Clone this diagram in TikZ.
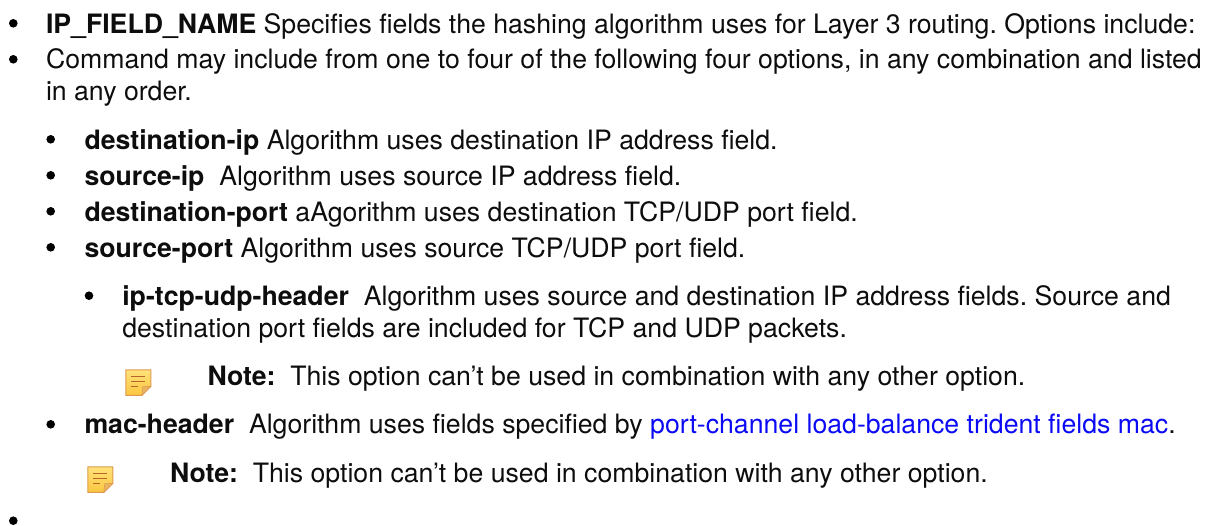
\documentclass[tikz,border=0pt]{standalone}
\usepackage{fontspec}
\setmainfont{TeX Gyre Heros}
\frenchspacing
\definecolor{linkblue}{HTML}{0A0AF5}
\definecolor{notetop}{HTML}{FFE27A}
\definecolor{notebot}{HTML}{FCC63F}
\definecolor{noteedge}{HTML}{DE9A50}
\definecolor{notefold}{HTML}{E9B560}
\definecolor{noteline}{HTML}{B5662A}
\tikzset{
 line/.style={anchor=base west,inner sep=0pt,outer sep=0pt,font=\fontsize{26.67pt}{26.67pt}\selectfont,text=black!95},
 bul/.style={circle,fill=black,inner sep=0pt,minimum size=8.6pt}
}
\newcommand{\noteicon}[2]{%
 \begin{scope}[shift={(#1,#2)}]
 \draw[noteedge,line width=1pt,top color=notetop,bottom color=notebot] (0.5,0.5) -- (25.5,0.5) -- (25.5,17) -- (16.5,26) -- (0.5,26) -- cycle;
 \fill[notefold,draw=noteedge,line width=0.6pt] (25.5,17) -- (17.5,17.5) -- (16.5,26) -- cycle;
 \draw[noteline,line width=1.1pt] (6,7) -- (20,7) (6,12) -- (20,12) (6,17) -- (13,17);
 \end{scope}
}
\begin{document}
\begin{tikzpicture}[x=1pt,y=-1pt]
\useasboundingbox (0,0) rectangle (1212,525);
\node[bul] (b1) at (13.3,23.3) {};
\node[line] (t1) at (46,33) {\textbf{IP\_FIELD\_NAME} Specifies fields the hashing algorithm uses for Layer 3 routing. Options include:};
\node[bul] (b2) at (13.3,59.3) {};
\node[line] (t2) at (46,68.5) {Command may include from one to four of the following four options, in any combination and listed};
\node[line] (t2b) at (46,100.7) {in any order.};
\node[bul] (b3) at (50.7,139.3) {};
\node[line] (t3) at (84.5,149) {\textbf{destination-ip} Algorithm uses destination IP address field.};
\node[bul] (b4) at (50.7,175.3) {};
\node[line] (t4) at (84.5,185) {\textbf{source-ip}\ \ Algorithm uses source IP address field.};
\node[bul] (b5) at (50.7,211.3) {};
\node[line] (t5) at (84.5,221) {\textbf{destination-port} aAgorithm uses destination TCP/UDP port field.};
\node[bul] (b6) at (50.7,247.3) {};
\node[line] (t6) at (84.5,257) {\textbf{source-port} Algorithm uses source TCP/UDP port field.};
\node[bul] (b7) at (89,295.7) {};
\node[line] (t7) at (122.3,305) {\textbf{ip-tcp-udp-header}\ \ Algorithm uses source and destination IP address fields. Source and};
\node[line] (t7b) at (122.3,337) {destination port fields are included for TCP and UDP packets.};
\node[line] (t8) at (207.5,385) {\textbf{Note:}\ \ This option can’t be used in combination with any other option.};
\noteicon{125.3}{369.3}
\node[bul] (b9) at (50.7,424.3) {};
\node[line] (t9) at (84.5,433.3) {\textbf{mac-header}\ \ Algorithm uses fields specified by \textcolor{linkblue}{port-channel load-balance trident fields mac}.};
\node[line] (t10) at (170,482) {\textbf{Note:}\ \ This option can’t be used in combination with any other option.};
\noteicon{87.3}{466.3}
\node[bul] (b11) at (13.3,520.7) {};
\end{tikzpicture}
\end{document}
